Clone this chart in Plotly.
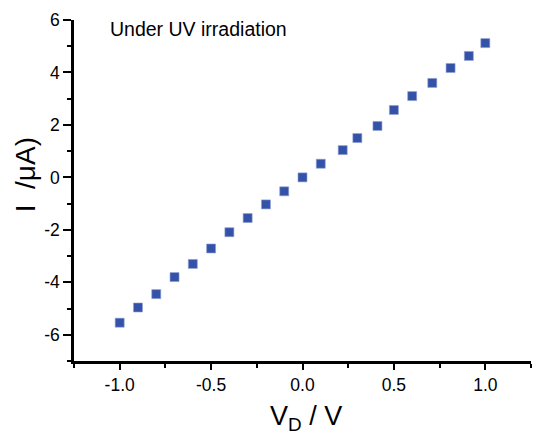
import plotly.graph_objects as go

# Data
vd = [-1.0, -0.9, -0.8, -0.7, -0.6, -0.5, -0.4, -0.3, -0.2, -0.1, 0.0,
      0.1, 0.22, 0.3, 0.41, 0.5, 0.6, 0.71, 0.81, 0.91, 1.0]
current = [-5.54, -4.96, -4.45, -3.80, -3.30, -2.71, -2.09, -1.55, -1.03, -0.53, 0.0,
           0.52, 1.04, 1.50, 1.96, 2.57, 3.10, 3.60, 4.17, 4.63, 5.12]

x_tickvals = [-1.0, -0.5, 0.0, 0.5, 1.0]
x_ticktext = ["-1.0", "-0.5", "0.0", "0.5", "1.0"]
y_tickvals = [-6, -4, -2, 0, 2, 4, 6]
y_ticktext = ["-6", "-4", "-2", "0", "2", "4", "6"]

FONT = "Arial, Liberation Sans, sans-serif"

fig = go.Figure()
fig.add_trace(go.Scatter(
    x=vd, y=current, mode="markers",
    marker=dict(symbol="square", size=9, color="#3453A8",
                line=dict(width=0.6, color="#8FA0D4")),
    showlegend=False, hoverinfo="skip"))

axis_common = dict(
    showline=True, linecolor="black", linewidth=2.5, mirror=False,
    showgrid=False, zeroline=False, ticks="outside", tickcolor="black",
    tickwidth=2, tickfont=dict(family=FONT, size=17.5, color="black"),
)

fig.update_xaxes(range=[-1.25, 1.25], tickvals=x_tickvals, ticktext=x_ticktext,
                 ticklen=6,
                 minor=dict(ticks="outside", tickvals=[-1.25, -0.75, -0.25, 0.25, 0.75, 1.25],
                            ticklen=4, tickwidth=2, tickcolor="black"),
                 **axis_common)
fig.update_yaxes(range=[-7, 6], tickvals=y_tickvals, ticktext=y_ticktext,
                 ticklen=8,
                 minor=dict(ticks="outside", tickvals=[-7, -5, -3, -1, 1, 3, 5],
                            ticklen=4, tickwidth=2, tickcolor="black"),
                 **axis_common)

fig.add_annotation(text="Under UV irradiation", xref="paper", yref="paper",
                   x=0.074, y=0.974, xanchor="left", yanchor="middle",
                   showarrow=False, font=dict(family=FONT, size=19.5, color="black"))
fig.add_annotation(text="I  /μA)", xref="paper", yref="paper",
                   x=-0.107, y=0.545, xanchor="center", yanchor="middle", textangle=-90,
                   showarrow=False, font=dict(family=FONT, size=28, color="black"))
fig.add_annotation(text="V<sub>D</sub> / V", xref="paper", yref="paper",
                   x=0.508, y=-0.11, xanchor="center", yanchor="top",
                   showarrow=False, font=dict(family=FONT, size=27, color="black"))

fig.update_layout(
    width=533, height=431,
    margin=dict(l=74, r=2, t=20, b=70),
    paper_bgcolor="white", plot_bgcolor="white",
)

fig.write_html("out.html")
